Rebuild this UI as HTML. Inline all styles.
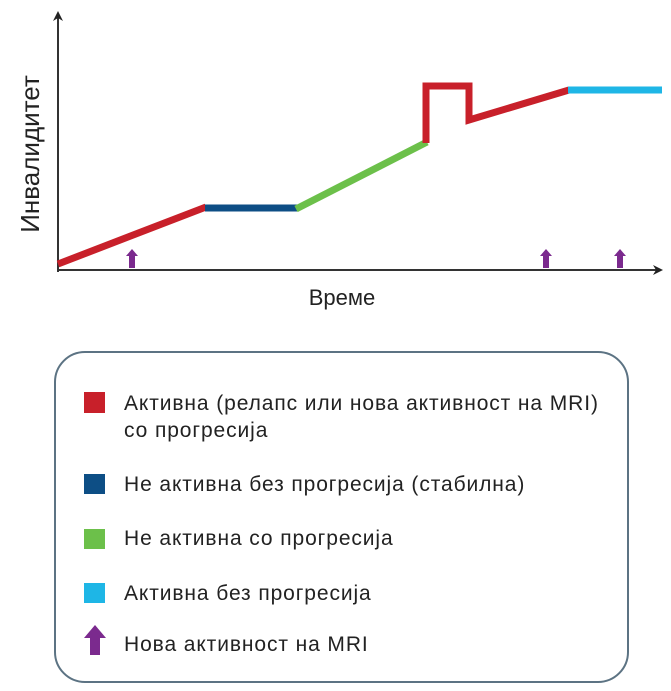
<!DOCTYPE html>
<html><head><meta charset="utf-8"><style>
html,body{margin:0;padding:0;background:#fff;width:671px;height:691px;overflow:hidden}
svg{display:block}
text{font-family:"Liberation Sans","DejaVu Sans",sans-serif;fill:#222}
.lg{font-size:21px;letter-spacing:0.9px}
</style></head><body>
<svg width="671" height="691" viewBox="0 0 671 691">
<defs>
<marker id="ah" markerWidth="10" markerHeight="10" refX="5" refY="5" orient="auto" markerUnits="userSpaceOnUse">
<path d="M0,0 L10,5 L0,10 L3,5 Z" fill="#222"/></marker>
</defs>
<line x1="58" y1="272" x2="58" y2="16" stroke="#333" stroke-width="2" marker-end="url(#ah)"/>
<line x1="57" y1="270" x2="658" y2="270" stroke="#333" stroke-width="2" marker-end="url(#ah)"/>
<g stroke-width="7" fill="none" stroke-linejoin="miter">
<line x1="58" y1="264" x2="206" y2="207" stroke="#c8202a"/>
<line x1="205" y1="208" x2="297" y2="208" stroke="#0d4e85"/>
<line x1="296" y1="209" x2="427" y2="142" stroke="#6cc04a"/>
<polyline points="426,143 426,86 469,86 469,120 569,90" stroke="#c8202a"/>
<line x1="568" y1="90" x2="662" y2="90" stroke="#1eb6e6"/>
</g>
<g fill="#7b2a8e">
<path d="M132,249 L138,256 L135,256 L135,268 L129,268 L129,256 L126,256 Z"/>
<path d="M546,249 L552,256 L549,256 L549,268 L543,268 L543,256 L540,256 Z"/>
<path d="M620,249 L626,256 L623,256 L623,268 L617,268 L617,256 L614,256 Z"/>
</g>
<text x="39" y="154" font-size="26" transform="rotate(-90 39 154)" text-anchor="middle">Инвалидитет</text>
<text x="342" y="305" font-size="22" text-anchor="middle">Време</text>
<rect x="55" y="352" width="573" height="330" rx="30" ry="30" fill="#fff" stroke="#5c7383" stroke-width="2"/>
<rect x="84" y="392" width="21" height="21" fill="#c8202a"/>
<text x="124" y="410" class="lg">Активна (релапс или нова активност на MRI)</text>
<text x="124" y="437" class="lg">со прогресија</text>
<rect x="84" y="474" width="21" height="20" fill="#0d4e85"/>
<text x="124" y="491" class="lg">Не активна без прогресија (стабилна)</text>
<rect x="84" y="529" width="21" height="20" fill="#6cc04a"/>
<text x="124" y="545" class="lg">Не активна со прогресија</text>
<rect x="84" y="583" width="21" height="20" fill="#1eb6e6"/>
<text x="124" y="600" class="lg">Активна без прогресија</text>
<path d="M95,625 L106,638 L100,638 L100,655 L90,655 L90,638 L84,638 Z" fill="#7b2a8e"/>
<text x="124" y="651" class="lg">Нова активност на MRI</text>
</svg>
</body></html>
